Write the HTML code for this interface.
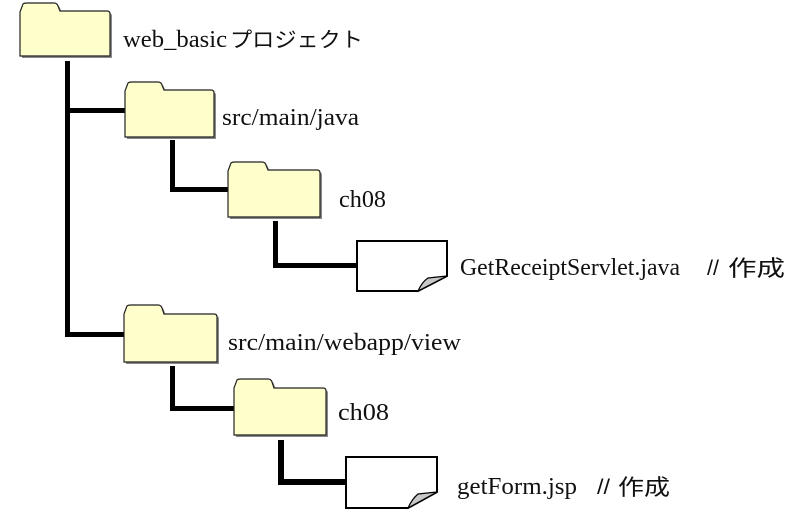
<!DOCTYPE html>
<html><head><meta charset="utf-8">
<style>
html,body{margin:0;padding:0;background:#fff;}
svg{display:block;}
.s{font-family:"Liberation Serif",serif;font-size:24px;fill:#111;}
.j{font-family:"Liberation Sans","Noto Sans CJK JP",sans-serif;font-size:21px;fill:#111;}
.k{font-family:"Liberation Sans","Noto Sans CJK JP",sans-serif;font-size:22px;fill:#111;}
</style></head>
<body>
<svg width="792" height="525" viewBox="0 0 792 525" xmlns="http://www.w3.org/2000/svg">
<!-- connectors -->
<g fill="#000">
<rect x="65" y="61" width="5" height="276"/>
<rect x="65" y="108" width="60" height="5"/>
<rect x="65" y="332" width="60" height="5"/>
<rect x="170" y="140" width="5" height="52"/>
<rect x="170" y="187" width="59" height="5"/>
<rect x="273" y="221" width="5" height="47"/>
<rect x="273" y="263" width="85" height="5"/>
<rect x="170" y="366" width="5" height="45"/>
<rect x="170" y="406" width="65" height="5"/>
<rect x="278" y="440" width="6" height="45"/>
<rect x="278" y="479" width="69" height="6"/>
</g>

<!-- folders -->
<g>
<path d="M22,58 L22,14 L25,5 Q26,5 29,5 L56,5 Q59,5 60,8 L62,13 L109,13 Q112,13 112,16 L112,58 Z" fill="#8a8a8a"/>
<path d="M20,56 L20,12 L23,4 Q24,3 27,3 L54,3 Q57,3 58,6 L60,11 L107,11 Q110,11 110,14 L110,56 Z" fill="#ffffcc" stroke="#222" stroke-width="1.2"/>
<path d="M127,139 L127,93 L130,85 Q131,84 134,84 L160,84 Q163,84 164,87 L166,92 L213,92 Q216,92 216,95 L216,139 Z" fill="#8a8a8a"/>
<path d="M125,137 L125,91 L128,83 Q129,82 132,82 L158,82 Q161,82 162,85 L164,90 L211,90 Q214,90 214,93 L214,137 Z" fill="#ffffcc" stroke="#222" stroke-width="1.2"/>
<path d="M230,219 L230,173 L233,165 Q234,164 237,164 L264,164 Q267,164 268,167 L270,172 L319,172 Q322,172 322,175 L322,219 Z" fill="#8a8a8a"/>
<path d="M228,217 L228,171 L231,163 Q232,162 235,162 L262,162 Q265,162 266,165 L268,170 L317,170 Q320,170 320,173 L320,217 Z" fill="#ffffcc" stroke="#222" stroke-width="1.2"/>
<path d="M126,364 L126,316 L129,308 Q130,307 133,307 L160,307 Q163,307 164,310 L166,316 L216,316 Q219,316 219,319 L219,364 Z" fill="#8a8a8a"/>
<path d="M124,362 L124,314 L127,306 Q128,305 131,305 L158,305 Q161,305 162,308 L164,314 L214,314 Q217,314 217,317 L217,362 Z" fill="#ffffcc" stroke="#222" stroke-width="1.2"/>
<path d="M236,437 L236,390 L239,382 Q240,381 243,381 L270,381 Q273,381 274,384 L276,390 L325,390 Q328,390 328,393 L328,437 Z" fill="#8a8a8a"/>
<path d="M234,435 L234,388 L237,380 Q238,379 241,379 L268,379 Q271,379 272,382 L274,388 L323,388 Q326,388 326,391 L326,435 Z" fill="#ffffcc" stroke="#222" stroke-width="1.2"/>
</g>

<!-- files -->
<g stroke="#000" stroke-width="2" stroke-linejoin="miter">
<path d="M357,241 L447,241 L447,276 L418,291 L357,291 Z" fill="#fff"/>
<path d="M447,276 L428,278 Q422,282 418,291 Z" fill="#c8c8c8" stroke-width="1.2"/>
<path d="M346,457 L437,457 L437,492 L408,508 L346,508 Z" fill="#fff"/>
<path d="M437,492 L418,494 Q412,499 408,508 Z" fill="#c8c8c8" stroke-width="1.2"/>
</g>

<!-- labels -->
<text class="s" x="123" y="47" textLength="104" lengthAdjust="spacingAndGlyphs">web_basic</text>
<text class="j" x="230" y="47" textLength="133" lengthAdjust="spacingAndGlyphs">プロジェクト</text>

<text class="s" x="222" y="125" textLength="137" lengthAdjust="spacingAndGlyphs">src/main/java</text>
<text class="s" x="339" y="207" textLength="47" lengthAdjust="spacingAndGlyphs">ch08</text>

<text class="s" x="460" y="275" textLength="220" lengthAdjust="spacingAndGlyphs">GetReceiptServlet.java</text>
<text class="j" x="707" y="275" textLength="12" lengthAdjust="spacingAndGlyphs">//</text>
<text class="k" x="728" y="276" textLength="57" lengthAdjust="spacingAndGlyphs">作成</text>

<text class="s" x="228" y="350" textLength="233" lengthAdjust="spacingAndGlyphs">src/main/webapp/view</text>
<text class="s" x="338" y="420" textLength="51" lengthAdjust="spacingAndGlyphs">ch08</text>

<text class="s" x="457" y="494" textLength="120" lengthAdjust="spacingAndGlyphs">getForm.jsp</text>
<text class="j" x="597" y="494" textLength="13" lengthAdjust="spacingAndGlyphs">//</text>
<text class="k" x="618" y="495" textLength="52" lengthAdjust="spacingAndGlyphs">作成</text>
</svg>
</body></html>
